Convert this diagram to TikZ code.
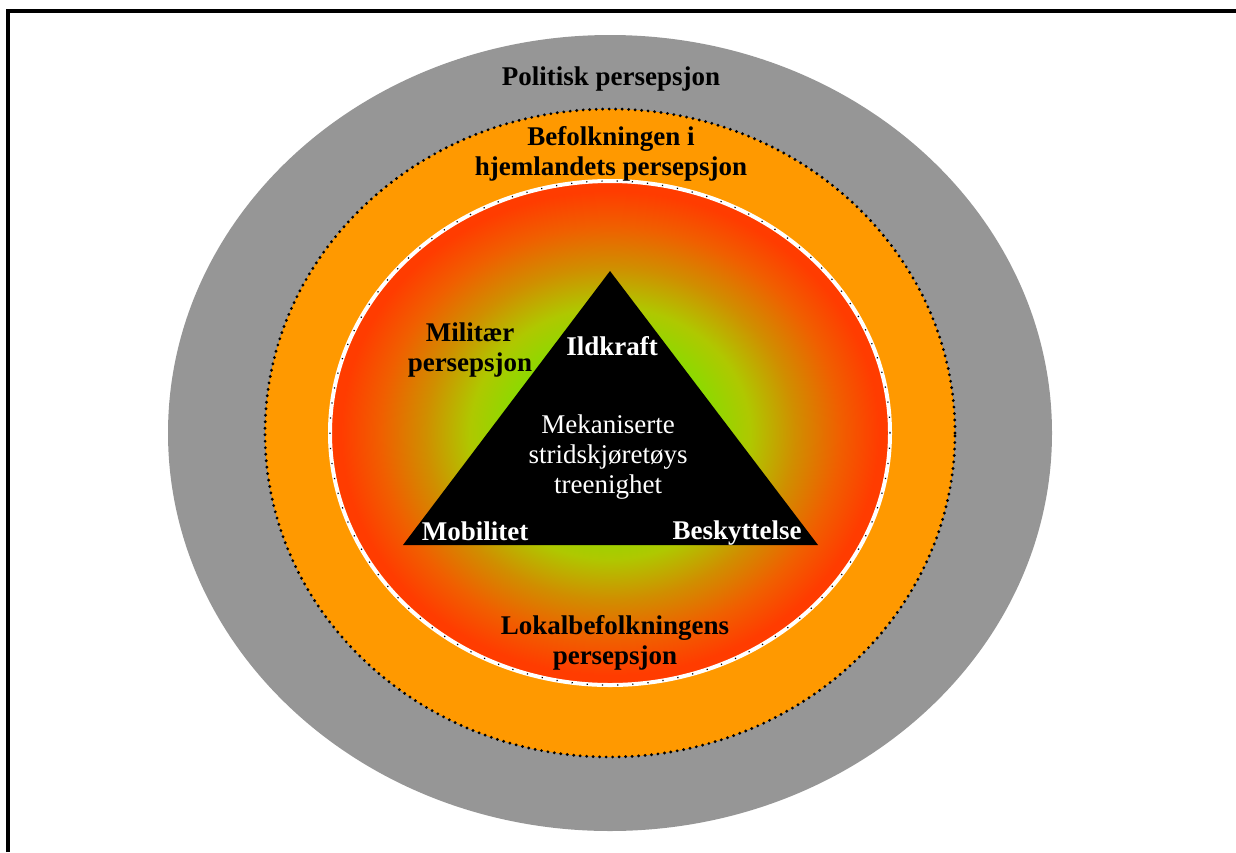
\documentclass[tikz,border=0pt]{standalone}
\usepackage{fontspec}
\setmainfont{Liberation Serif}
\definecolor{politgray}{RGB}{150,150,150}
\definecolor{homeorange}{RGB}{255,153,0}
\definecolor{localred}{RGB}{255,60,0}
\definecolor{deeporange}{RGB}{240,95,0}
\definecolor{midamber}{RGB}{208,142,0}
\definecolor{milyellow}{RGB}{175,200,0}
\definecolor{milgreen}{RGB}{140,218,0}
\pgfdeclareradialshading{perspshade}{\pgfpointorigin}{color(0bp)=(milgreen); color(9bp)=(milgreen); color(12.5bp)=(milyellow); color(16.5bp)=(midamber); color(20.5bp)=(deeporange); color(24bp)=(localred); color(50bp)=(localred)}
\tikzset{
  ringtext/.style={font=\bfseries\fontsize{27}{30}\selectfont, align=center, inner sep=0pt},
  tritext/.style={ringtext, text=white},
  coretext/.style={font=\fontsize{27}{30}\selectfont, align=center, inner sep=0pt, text=white}
}
\begin{document}
\begin{tikzpicture}[x=1pt, y=-1pt]
        \useasboundingbox (0,0) rectangle (1236,852);
        \draw[line width=3.5pt] (8,852) -- (8,11) -- (1236,11); % frame
        \fill[politgray] (610,433) ellipse (442pt and 398pt);
        \fill[homeorange] (610,433) ellipse (345pt and 324pt);
        \draw[line width=3.2pt, dash pattern=on 0pt off 6.5pt, line cap=round] (610,433) ellipse (345pt and 324pt);
        \shade[shading=perspshade] (610,433) ellipse (280pt and 252pt);
        \draw[white, line width=4pt] (610,433) ellipse (280pt and 252pt);
        \draw[line width=1.2pt, dash pattern=on 1.2pt off 14pt] (610,433) ellipse (280pt and 252pt);
        \coordinate (apex) at (610,271);
        \coordinate (left) at (403,545);
        \coordinate (right) at (818,545);
        \fill[black] (apex) -- (right) -- (left) -- cycle;
        \node[ringtext] (polit) at (611,79) {Politisk persepsjon};
        \node[ringtext] (home) at (611,154) {Befolkningen i\\hjemlandets persepsjon};
        \node[ringtext] (mil) at (470,350) {Militær\\persepsjon};
        \node[ringtext] (local) at (615,643) {Lokalbefolkningens\\persepsjon};
        \node[tritext] (fire) at (612,346) {Ildkraft};
        \node[tritext] (mob) at (475,531) {Mobilitet};
        \node[tritext] (prot) at (737,533) {Beskyttelse};
        \node[coretext] (core) at (608,457) {Mekaniserte\\stridskjøretøys\\treenighet};
      \end{tikzpicture}
\end{document}
